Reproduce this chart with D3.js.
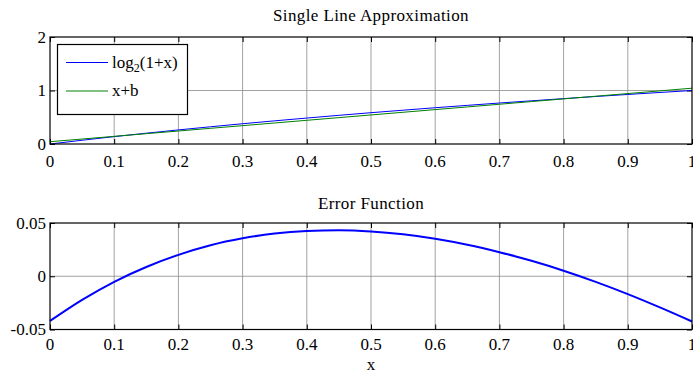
<!DOCTYPE html>
<html>
<head>
<meta charset="utf-8">
<script src="https://cdn.jsdelivr.net/npm/d3@7"></script>
<style>
  body { margin: 0; background: #fff; }
  svg text { font-family: "Liberation Serif", serif; fill: #000; }
</style>
</head>
<body>
<div id="chart"><svg width="693" height="373"></svg></div>
<script>

/**********************
***** DATA *****
**********************/

const xVals = [0, 0.05, 0.1, 0.15, 0.2, 0.25, 0.3, 0.35, 0.4, 0.45, 0.5,
               0.55, 0.6, 0.65, 0.7, 0.75, 0.8, 0.85, 0.9, 0.95, 1];
const log2Vals = [0, 0.070, 0.138, 0.202, 0.263, 0.322, 0.379, 0.433, 0.485, 0.536, 0.585,
                  0.632, 0.678, 0.722, 0.766, 0.807, 0.848, 0.888, 0.926, 0.963, 1.0];
const linVals = [0.043, 0.093, 0.143, 0.193, 0.243, 0.293, 0.343, 0.393, 0.443, 0.493, 0.543,
                 0.593, 0.643, 0.693, 0.743, 0.793, 0.843, 0.893, 0.943, 0.993, 1.043];
const errVals = [-0.0420, -0.0222, -0.0052, 0.0087, 0.0201, 0.0291, 0.0356, 0.0401, 0.0425, 0.0432, 0.0421,
                 0.0394, 0.0352, 0.0296, 0.0226, 0.0145, 0.0052, -0.0053, -0.0168, -0.0293, -0.0425];

const xTicks = [0, 0.1, 0.2, 0.3, 0.4, 0.5, 0.6, 0.7, 0.8, 0.9, 1];
const topYTicks = [0, 1, 2];
const botYTicks = [-0.05, 0, 0.05];
const botYLabels = ["-0.05", "0", "0.05"];

const legendNames = ["log2(1+x)", "x+b"];
const seriesColors = ["#0000ff", "#008000"];


/**********************
***** BASIC SETUP *****
**********************/

const svg = d3.select("#chart").select("svg");

const left = 50, right = 692;
const panels = [
    {top: 37, bottom: 144, title: "Single Line Approximation", titleY: 21, tickY: 166.5,
     domain: [0, 2], ticks: topYTicks, labels: topYTicks.map(String)},
    {top: 223, bottom: 329.5, title: "Error Function", titleY: 209, tickY: 350,
     domain: [-0.05, 0.05], ticks: botYTicks, labels: botYLabels}
];

const xScale = d3.scaleLinear().domain([0, 1]).range([left, right]);
const fontSize = "17px";
const tickLength = 5;

function drawPanel(p) {
    const yScale = d3.scaleLinear().domain(p.domain).range([p.bottom, p.top]);
    const g = svg.append("g");

    // grid
    g.selectAll(".vGrid")
        .data(xTicks.slice(1, -1))
        .enter()
        .append("line")
        .attr("x1", d => xScale(d)).attr("x2", d => xScale(d))
        .attr("y1", p.top).attr("y2", p.bottom)
        .attr("stroke", "#8a8a8a").attr("stroke-width", 0.8);
    g.selectAll(".hGrid")
        .data(p.ticks.slice(1, -1))
        .enter()
        .append("line")
        .attr("x1", left).attr("x2", right)
        .attr("y1", d => yScale(d)).attr("y2", d => yScale(d))
        .attr("stroke", "#8a8a8a").attr("stroke-width", 0.8);

    // inward ticks on all four sides
    const xBottom = d3.axisBottom(xScale).tickValues(xTicks).tickSizeInner(-tickLength).tickSizeOuter(0).tickFormat("");
    const xTop = d3.axisTop(xScale).tickValues(xTicks).tickSizeInner(-tickLength).tickSizeOuter(0).tickFormat("");
    const yLeft = d3.axisLeft(yScale).tickValues(p.ticks).tickSizeInner(-tickLength).tickSizeOuter(0).tickFormat("");
    const yRight = d3.axisRight(yScale).tickValues(p.ticks).tickSizeInner(-tickLength).tickSizeOuter(0).tickFormat("");
    [[xBottom, `translate(0,${p.bottom})`], [xTop, `translate(0,${p.top})`],
     [yLeft, `translate(${left},0)`], [yRight, `translate(${right},0)`]].forEach(a => {
        g.append("g").attr("transform", a[1]).call(a[0])
            .call(s => s.select(".domain").remove())
            .selectAll("line").attr("stroke", "#000").attr("stroke-width", 1);
    });

    // tick labels
    g.selectAll(".xLab")
        .data(xTicks)
        .enter()
        .append("text")
        .attr("x", d => xScale(d))
        .attr("y", p.tickY)
        .attr("text-anchor", "middle")
        .style("font-size", fontSize)
        .text(d => String(d));
    g.selectAll(".yLab")
        .data(p.ticks)
        .enter()
        .append("text")
        .attr("x", left - 4)
        .attr("y", d => yScale(d))
        .attr("dy", "0.35em")
        .attr("text-anchor", "end")
        .style("font-size", fontSize)
        .text((d, i) => p.labels[i]);

    // title
    g.append("text")
        .attr("x", (left + right) / 2)
        .attr("y", p.titleY)
        .attr("text-anchor", "middle")
        .style("font-size", fontSize)
        .style("letter-spacing", "0.4px")
        .text(p.title);

    return {g: g, yScale: yScale};
}

const topP = drawPanel(panels[0]);
const botP = drawPanel(panels[1]);


/**********************
***** LINES *****
**********************/

function lineFor(yScale) {
    return d3.line()
        .x((d, i) => xScale(xVals[i]))
        .y(d => yScale(d))
        .curve(d3.curveMonotoneX);
}

[log2Vals, linVals].forEach((vals, i) => {
    topP.g.append("path")
        .datum(vals)
        .attr("d", lineFor(topP.yScale))
        .attr("fill", "none")
        .attr("stroke", seriesColors[i])
        .attr("stroke-width", 1);
});

botP.g.append("path")
    .datum(errVals)
    .attr("d", lineFor(botP.yScale))
    .attr("fill", "none")
    .attr("stroke", seriesColors[0])
    .attr("stroke-width", 2);

// axes boxes
panels.forEach(p => {
    svg.append("rect")
        .attr("x", left).attr("y", p.top)
        .attr("width", right - left).attr("height", p.bottom - p.top)
        .attr("fill", "none").attr("stroke", "#000").attr("stroke-width", 1.2);
});

svg.append("text")
    .attr("x", (left + right) / 2)
    .attr("y", 370)
    .attr("text-anchor", "middle")
    .style("font-size", fontSize)
    .text("x");


/**********************
***** LEGEND *****
**********************/

const legend = svg.append("g");
legend.append("rect")
    .attr("x", 57.5).attr("y", 44.5)
    .attr("width", 130).attr("height", 70)
    .attr("fill", "#fff").attr("stroke", "#000").attr("stroke-width", 1.2);

const legendRowY = [62.5, 91];
legendNames.forEach((name, i) => {
    legend.append("line")
        .attr("x1", 66).attr("x2", 108)
        .attr("y1", legendRowY[i]).attr("y2", legendRowY[i])
        .attr("stroke", seriesColors[i]).attr("stroke-width", 1);
    const t = legend.append("text")
        .attr("x", 112)
        .attr("y", legendRowY[i] + 5)
        .style("font-size", fontSize);
    if (name.startsWith("log2")) {
        t.append("tspan").text("log");
        t.append("tspan").attr("dy", 4).style("font-size", "12px").text("2");
        t.append("tspan").attr("dy", -4).text("(1+x)");
    } else {
        t.text(name);
    }
});

</script>
</body>
</html>
